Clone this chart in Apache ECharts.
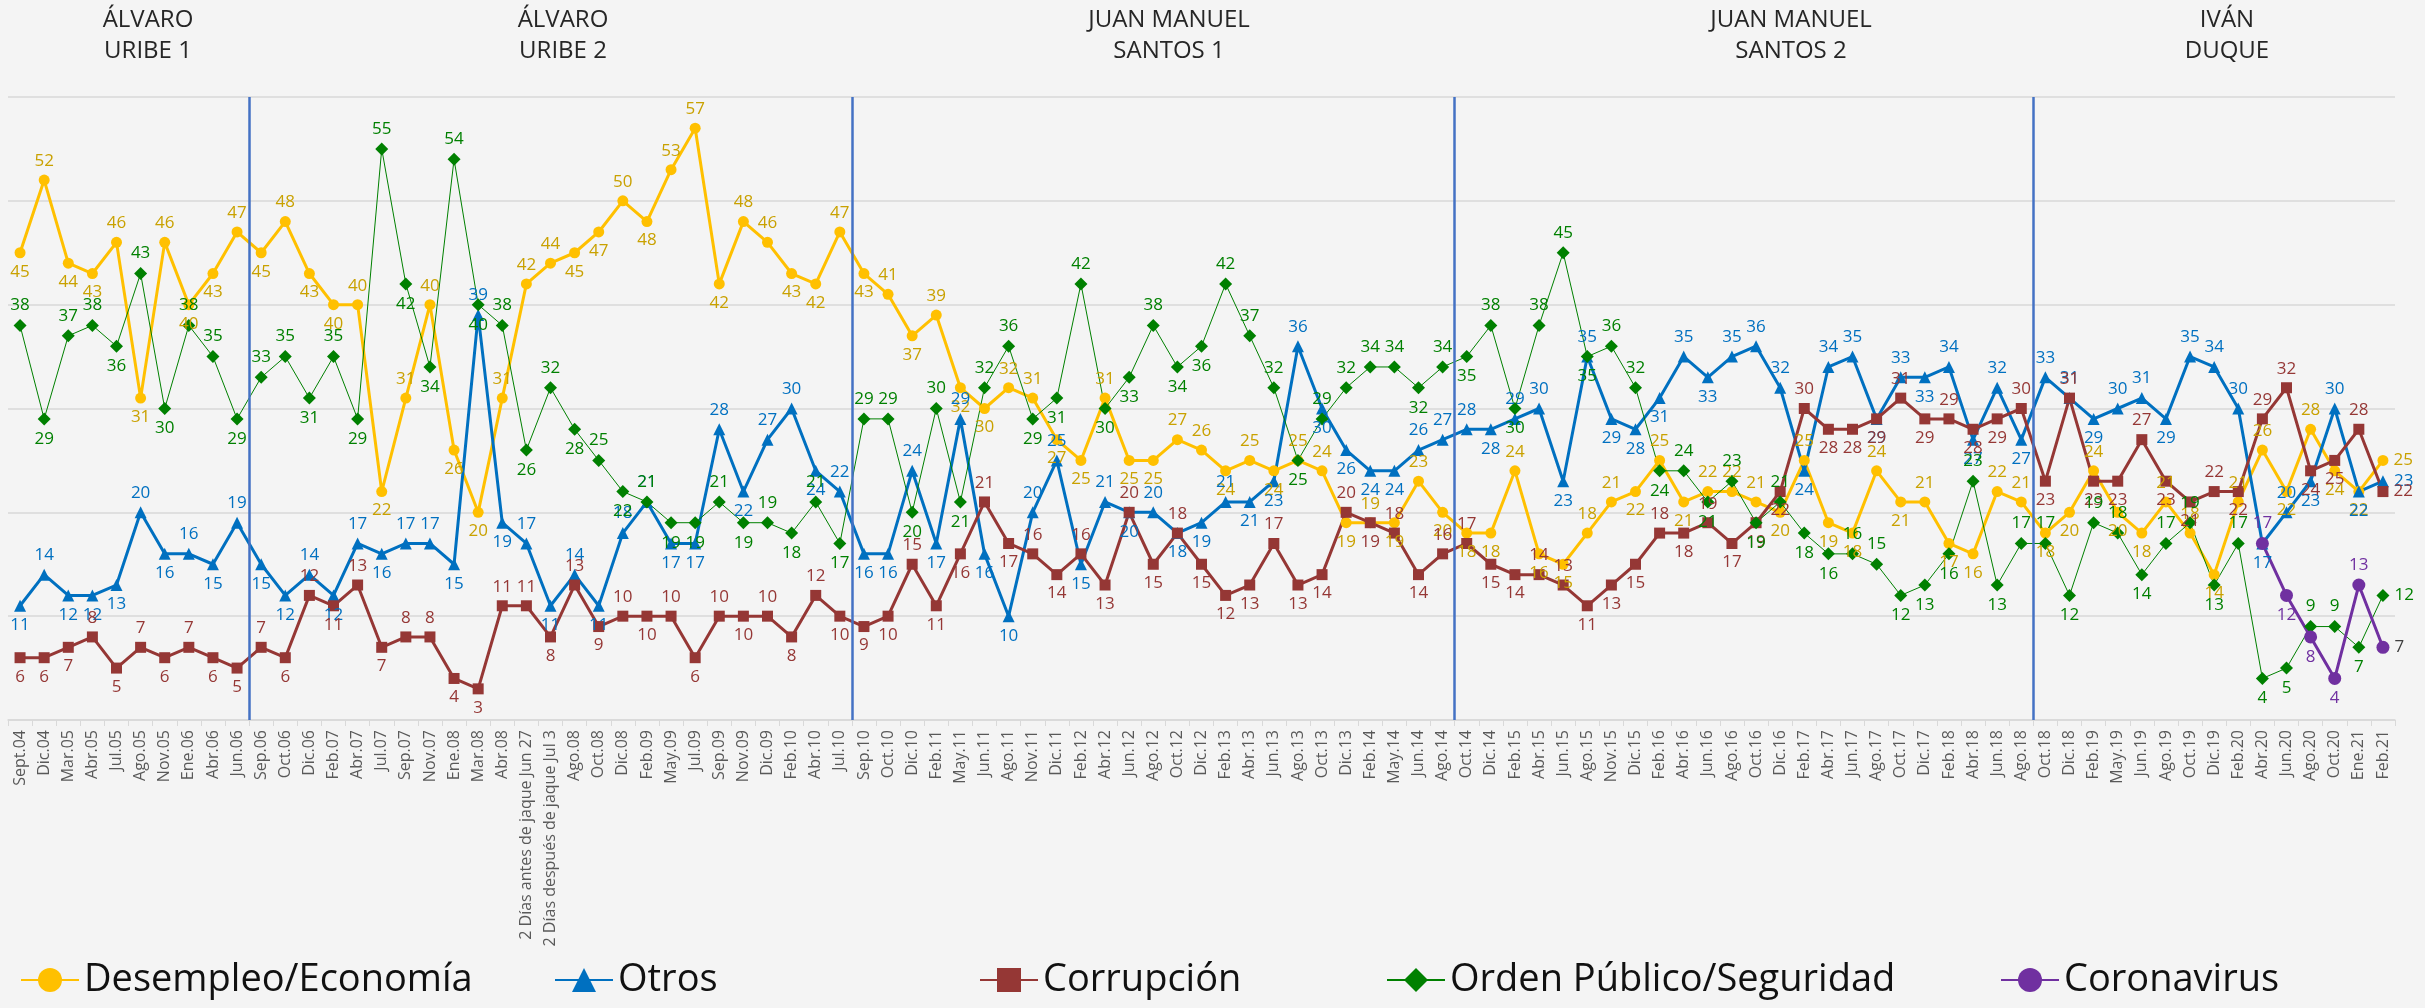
<!DOCTYPE html>
<html>
<head>
<meta charset="utf-8">
<script src="https://cdn.jsdelivr.net/npm/echarts@6/dist/echarts.min.js"></script>
<style>
html,body{margin:0;padding:0;background:#f4f4f4;}
#chart{width:2425px;height:1008px;}
</style>
</head>
<body>
<div id="chart"></div>
<script>
var categories = [
  'Sept.04','Dic.04','Mar.05','Abr.05','Jul.05','Ago.05','Nov.05','Ene.06','Abr.06','Jun.06',
  'Sep.06','Oct.06','Dic.06','Feb.07','Abr.07','Jul.07','Sep.07','Nov.07','Ene.08','Mar.08',
  'Abr.08','2 Días antes de jaque Jun 27','2 Días después de jaque Jul 3','Ago.08','Oct.08','Dic.08','Feb.09','May.09','Jul.09','Sep.09',
  'Nov.09','Dic.09','Feb.10','Abr.10','Jul.10','Sep.10','Oct.10','Dic.10','Feb.11','May.11',
  'Jun.11','Ago.11','Nov.11','Dic.11','Feb.12','Abr.12','Jun.12','Ago.12','Oct.12','Dic.12',
  'Feb.13','Abr.13','Jun.13','Ago.13','Oct.13','Dic.13','Feb.14','May.14','Jun.14','Ago.14',
  'Oct.14','Dic.14','Feb.15','Abr.15','Jun.15','Ago.15','Nov.15','Dic.15','Feb.16','Abr.16',
  'Jun.16','Ago.16','Oct.16','Dic.16','Feb.17','Abr.17','Jun.17','Ago.17','Oct.17','Dic.17',
  'Feb.18','Abr.18','Jun.18','Ago.18','Oct.18','Dic.18','Feb.19','May.19','Jun.19','Ago.19',
  'Oct.19','Dic.19','Feb.20','Abr.20','Jun.20','Ago.20','Oct.20','Ene.21','Feb.21'
];

var desempleo = [
  45,52,44,43,46,31,46,40,43,47,
  45,48,43,40,40,22,31,40,26,20,
  31,42,44,45,47,50,48,53,57,42,
  48,46,43,42,47,43,41,37,39,32,
  30,32,31,27,25,31,25,25,27,26,
  24,25,24,25,24,19,19,19,23,20,
  18,18,24,16,15,18,21,22,25,21,
  22,22,21,20,25,19,18,24,21,21,
  17,16,22,21,18,20,24,20,18,21,
  18,14,21,26,22,28,24,22,25
];

var otros = [
  11,14,12,12,13,20,16,16,15,19,
  15,12,14,12,17,16,17,17,15,39,
  19,17,11,14,11,18,21,17,17,28,
  22,27,30,24,22,16,16,24,17,29,
  16,10,20,25,15,21,20,20,18,19,
  21,21,23,36,30,26,24,24,26,27,
  28,28,29,30,23,35,29,28,31,35,
  33,35,36,32,24,34,35,29,33,33,
  34,27,32,27,33,31,29,30,31,29,
  35,34,30,17,20,23,30,22,23
];

var corrupcion = [
  6,6,7,8,5,7,6,7,6,5,
  7,6,12,11,13,7,8,8,4,3,
  11,11,8,13,9,10,10,10,6,10,
  10,10,8,12,10,9,10,15,11,16,
  21,17,16,14,16,13,20,15,18,15,
  12,13,17,13,14,20,19,18,14,16,
  17,15,14,14,13,11,13,15,18,18,
  19,17,19,22,30,28,28,29,31,29,
  29,28,29,30,23,31,23,23,27,23,
  21,22,22,29,32,24,25,28,22
];

var ordenPublico = [
  38,29,37,38,36,43,30,38,35,29,
  33,35,31,35,29,55,42,34,54,40,
  38,26,32,28,25,22,21,19,19,21,
  19,19,18,21,17,29,29,20,30,21,
  32,36,29,31,42,30,33,38,34,36,
  42,37,32,25,29,32,34,34,32,34,
  35,38,30,38,45,35,36,32,24,24,
  21,23,19,21,18,16,16,15,12,13,
  16,23,13,17,17,12,19,18,14,17,
  19,13,17,4,5,9,9,7,12
];

var coronavirusStart = 'Abr.20';
var coronavirus = [17,12,8,4,13,7];

// primer mes de cada nuevo periodo presidencial
var termStarts = ['Sep.06','Sep.10','Oct.14','Oct.18'];
var termNames = ['ÁLVARO\nURIBE 1','ÁLVARO\nURIBE 2','JUAN MANUEL\nSANTOS 1','JUAN MANUEL\nSANTOS 2','IVÁN\nDUQUE'];

var names = ['Desempleo/Economía','Otros','Corrupción','Orden Público/Seguridad','Coronavirus'];

var covidData = categories.map(function(c){ return null; });
var startIdx = categories.indexOf(coronavirusStart);
coronavirus.forEach(function(v,i){ covidData[startIdx + i] = v; });

function labelPos(arr, i, dflt){
  var v = arr[i];
  if (v == null) return dflt;
  var nb = [];
  if (i > 0 && arr[i-1] != null) nb.push(arr[i-1]);
  if (i < arr.length-1 && arr[i+1] != null) nb.push(arr[i+1]);
  if (!nb.length) return dflt;
  var m = nb.reduce(function(a,b){return a+b;},0)/nb.length;
  if (v > m) return 'top';
  if (v < m) return 'bottom';
  return dflt;
}

function makeSeries(name, values, color, labelColor, symbol, size, width, dflt){
  return {
    name: name,
    type: 'line',
    symbol: symbol,
    symbolSize: size,
    lineStyle: {color: color, width: width},
    itemStyle: {color: color},
    label: {show: true, color: labelColor, fontSize: 17, fontFamily: 'Open Sans', distance: 5},
    labelLayout: {hideOverlap: false},
    data: values.map(function(v, i){
      var last = i === values.length - 1;
      return {value: v, label: {position: last ? 'right' : labelPos(values, i, dflt)}};
    })
  };
}

var chart = echarts.init(document.getElementById('chart'));

var series = [
  makeSeries(names[0], desempleo, '#FFC000', '#C9A100', 'circle', 11, 3, 'top'),
  makeSeries(names[1], otros, '#0070C0', '#0070C0', 'triangle', 12, 3, 'top'),
  makeSeries(names[2], corrupcion, '#953735', '#953735', 'rect', 11, 3, 'bottom'),
  makeSeries(names[3], ordenPublico, '#008000', '#008000', 'diamond', 13, 1, 'top'),
  makeSeries(names[4], covidData, '#7030A0', '#7030A0', 'circle', 13, 3, 'bottom')
];
series[4].data[series[4].data.length-1].label.color = '#404040';

// lineas de separacion entre gobiernos
series.push({
  type: 'line',
  xAxisIndex: 1,
  data: [[0, 0]],
  symbol: 'none',
  lineStyle: {opacity: 0},
  silent: true,
  markLine: {
    silent: true,
    symbol: 'none',
    label: {show: false},
    lineStyle: {color: '#4472C4', width: 2.5, type: 'solid'},
    data: termStarts.map(function(c){ return {xAxis: categories.indexOf(c) - 0.5}; })
  }
});

var legendLeft = [15, 549, 974, 1381, 1995];
var titleX = [148, 563, 1169, 1791, 2227];

chart.setOption({
  backgroundColor: '#f4f4f4',
  animation: false,
  grid: {left: 8, right: 30, top: 97, bottom: 288},
  xAxis: [
    {
      type: 'category',
      data: categories,
      boundaryGap: true,
      axisLine: {lineStyle: {color: '#D9D9D9', width: 1.5}},
      axisTick: {show: true, length: 6, lineStyle: {color: '#D9D9D9'}},
      axisLabel: {interval: 0, rotate: 90, color: '#595959', fontSize: 16, fontFamily: 'Open Sans', margin: 10}
    },
    {type: 'value', min: -0.5, max: categories.length - 0.5, show: false}
  ],
  yAxis: {
    type: 'value',
    min: 0,
    max: 60,
    interval: 10,
    axisLabel: {show: false},
    axisLine: {show: false},
    axisTick: {show: false},
    splitLine: {lineStyle: {color: '#D9D9D9', width: 1.5}}
  },
  legend: names.map(function(n, i){
    return {
      data: [n],
      left: legendLeft[i],
      top: 956,
      itemWidth: 58,
      itemHeight: 30,
      itemGap: 12,
      textStyle: {fontSize: 38, color: '#111', fontFamily: 'Open Sans'}
    };
  }),
  graphic: termNames.map(function(t, i){
    return {
      type: 'text',
      x: titleX[i],
      y: 5,
      style: {text: t, align: 'center', font: '24px "Open Sans"', fill: '#262626', lineHeight: 31}
    };
  }),
  series: series
});
</script>
</body>
</html>
